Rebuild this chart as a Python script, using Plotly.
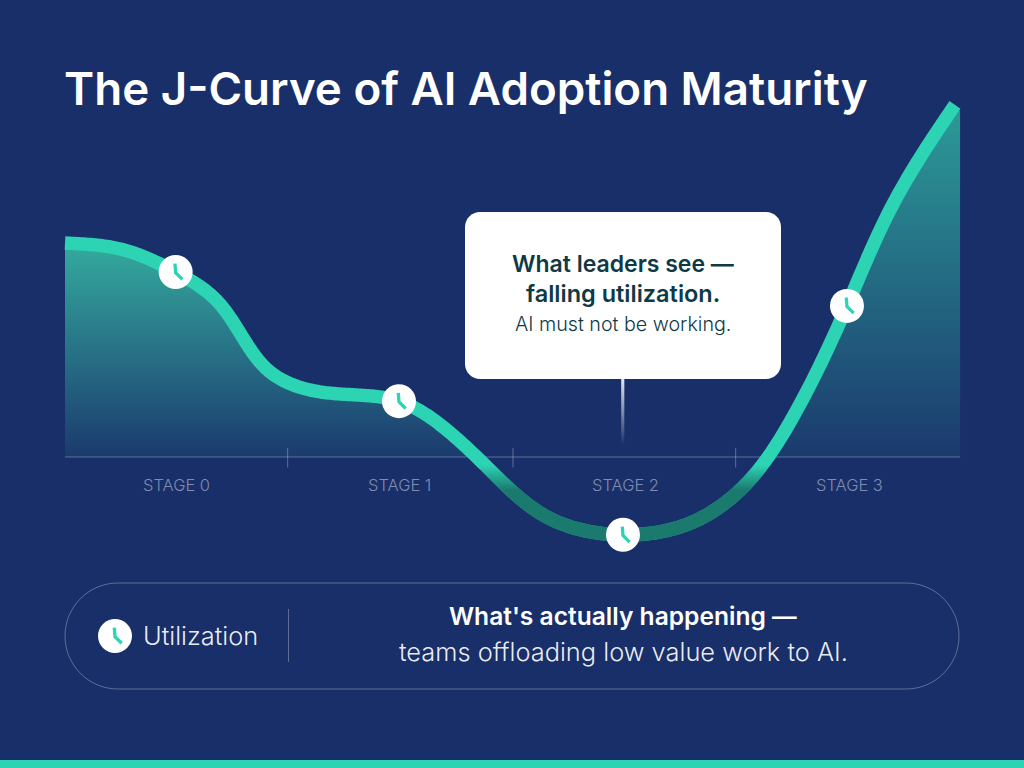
import numpy as np
import plotly.graph_objects as go

# Utilization curve: x in stage units, y in utilization index (0 = axis baseline)
stage_pos = [0.0, 0.246, 0.494, 0.67, 0.795, 0.915, 1.094, 1.295, 1.491, 1.688, 1.911,
             2.143, 2.491, 2.804, 3.013, 3.25, 3.491, 3.683, 3.839, 3.973]
utilization = [61.3, 59.6, 53.0, 45.3, 34.1, 24.4, 19.2, 17.8, 16.0, 8.6, -4.6,
               -16.9, -22.3, -18.6, -9.5, 11.5, 43.3, 70.8, 88.0, 100.9]

# Marked readings, one per stage
marker_pos = [0.494, 1.491, 2.491, 3.491]
marker_util = [53.0, 16.0, -22.3, 43.3]

stage_labels = ["STAGE 0", "STAGE 1", "STAGE 2", "STAGE 3"]
stage_centers = [0.497, 1.495, 2.5, 3.5]
stage_ticks = [0.994, 2.0, 2.994]

NAVY = "#192f69"
TEAL = "#2dd4b4"
DIM_TEAL = "#1b7a6e"
DARK_TEXT = "#0f3a45"
FONT = "Inter"
W, H = 1024, 768
PX_PER_STAGE = 224.0
PX_PER_UNIT = 3.49
X0_PX, Y0_PX = 65.0, 457.0
LINE_PX = 13.4


def smooth(xs, ys, per_span=24):
    """Natural cubic spline through the readings, parametrised by screen distance."""
    p = np.column_stack([np.array(xs) * PX_PER_STAGE, np.array(ys) * PX_PER_UNIT])
    h = np.linalg.norm(np.diff(p, axis=0), axis=1)
    n = len(p)
    a = np.zeros((n, n))
    b = np.zeros((n, 2))
    a[0, 0] = a[-1, -1] = 1
    for i in range(1, n - 1):
        a[i, i - 1] = h[i - 1]
        a[i, i] = 2 * (h[i - 1] + h[i])
        a[i, i + 1] = h[i]
        b[i] = 6 * ((p[i + 1] - p[i]) / h[i] - (p[i] - p[i - 1]) / h[i - 1])
    m = np.linalg.solve(a, b)
    out = []
    for i in range(n - 1):
        for s in np.linspace(0, 1, per_span, endpoint=False):
            r = 1 - s
            out.append(r * p[i] + s * p[i + 1]
                       + ((r**3 - r) * m[i] + (s**3 - s) * m[i + 1]) * h[i] ** 2 / 6)
    out.append(p[-1])
    return np.array(out)


def xp(px):
    return px / W


def yp(py):
    return 1 - py / H


def rounded_rect(x0, y0, x1, y1, r):
    """Path in paper coordinates for a rounded rectangle given in page pixels."""
    k = 0.448 * r
    pts = [
        f"M {xp(x0 + r)} {yp(y0)}", f"L {xp(x1 - r)} {yp(y0)}",
        f"C {xp(x1 - k)} {yp(y0)} {xp(x1)} {yp(y0 + k)} {xp(x1)} {yp(y0 + r)}",
        f"L {xp(x1)} {yp(y1 - r)}",
        f"C {xp(x1)} {yp(y1 - k)} {xp(x1 - k)} {yp(y1)} {xp(x1 - r)} {yp(y1)}",
        f"L {xp(x0 + r)} {yp(y1)}",
        f"C {xp(x0 + k)} {yp(y1)} {xp(x0)} {yp(y1 - k)} {xp(x0)} {yp(y1 - r)}",
        f"L {xp(x0)} {yp(y0 + r)}",
        f"C {xp(x0)} {yp(y0 + k)} {xp(x0 + k)} {yp(y0)} {xp(x0 + r)} {yp(y0)} Z",
    ]
    return " ".join(pts)


def clock_hand(xanchor, yanchor, xref, yref):
    return dict(type="path", layer="above", xref=xref, yref=yref,
                xsizemode="pixel", ysizemode="pixel", xanchor=xanchor, yanchor=yanchor,
                path="M -0.7 8.3 L 0 -0.7 L 6.7 -7.3",
                line=dict(color=TEAL, width=3.3))


curve = smooth(stage_pos, utilization)
curve_x = curve[:, 0] / PX_PER_STAGE
curve_y = curve[:, 1] / PX_PER_UNIT

# Filled lobes: the stretches of the curve above the baseline
left = (curve_y >= 0) & (curve_x < 2)
right = (curve_y >= 0) & (curve_x > 2)
left_x, left_y = curve_x[left], curve_y[left]
right_x = np.append(curve_x[right], 3.996)
right_y = np.append(curve_y[right], 99.0)

# Ribbon around the dipped stretch, used to carry the dimming gradient
tangent = np.gradient(curve, axis=0)
normal = np.column_stack([-tangent[:, 1], tangent[:, 0]])
normal /= np.linalg.norm(normal, axis=1, keepdims=True)
half = (LINE_PX + 0.5) / 2
upper = curve + normal * half
lower = curve - normal * half
dip = curve_y < -0.5
ribbon_x = np.concatenate([upper[dip, 0], lower[dip, 0][::-1]]) / PX_PER_STAGE
ribbon_y = np.concatenate([upper[dip, 1], lower[dip, 1][::-1]]) / PX_PER_UNIT

fig = go.Figure()

# Gradient fills under the curve
fig.add_trace(go.Scatter(
    x=left_x, y=left_y, mode="lines", fill="tozeroy", line=dict(width=0, simplify=False),
    fillgradient=dict(type="vertical", start=0, stop=61.3,
                      colorscale=[[0, "#1b3a6e"], [1, "#34ab9e"]]),
))
fig.add_trace(go.Scatter(
    x=right_x, y=right_y, mode="lines", fill="tozeroy", line=dict(width=0, simplify=False),
    fillgradient=dict(type="vertical", start=0, stop=100,
                      colorscale=[[0, "#1b3a6e"], [1, "#2c9a97"]]),
))

# Baseline
fig.add_trace(go.Scatter(
    x=[0, 3.996], y=[0, 0], mode="lines",
    line=dict(color="rgba(255,255,255,0.3)", width=1),
))

# Utilization curve
fig.add_trace(go.Scatter(
    x=curve_x, y=curve_y, mode="lines", line=dict(color=TEAL, width=LINE_PX, simplify=False),
))

# Dimmed stretch below the baseline
fig.add_trace(go.Scatter(
    x=ribbon_x, y=ribbon_y, mode="lines", fill="toself", line=dict(width=0, simplify=False),
    fillgradient=dict(type="vertical", start=-32, stop=-2.3,
                      colorscale=[[0, DIM_TEAL], [0.758, DIM_TEAL], [1, "rgba(27,122,110,0)"]]),
))

# Stage separators
tick_x, tick_y = [], []
for t in stage_ticks:
    tick_x += [t, t, None]
    tick_y += [2.6, -3.0, None]
fig.add_trace(go.Scatter(
    x=tick_x, y=tick_y, mode="lines",
    line=dict(color="rgba(255,255,255,0.3)", width=1),
))

# Callout stem fading toward the baseline
fig.add_trace(go.Scatter(
    x=[2.483, 2.497, 2.497, 2.483, 2.483], y=[22.6, 22.6, 3.4, 3.4, 22.6],
    mode="lines", fill="toself", line=dict(width=0),
    fillgradient=dict(type="vertical", start=3.4, stop=22.6,
                      colorscale=[[0, "rgba(255,255,255,0)"], [1, "rgba(255,255,255,0.9)"]]),
))

# Clock markers
fig.add_trace(go.Scatter(
    x=marker_pos, y=marker_util, mode="markers",
    marker=dict(size=34, color="white", line=dict(width=0)),
))

fig.update_traces(hoverinfo="skip", showlegend=False)

shapes = [
    dict(type="path", xref="paper", yref="paper", layer="below",
         path=rounded_rect(465, 212, 781, 379, 15), fillcolor="white", line=dict(width=0)),
    dict(type="path", xref="paper", yref="paper", layer="below",
         path=rounded_rect(65, 583, 959, 689, 53), fillcolor="rgba(0,0,0,0)",
         line=dict(color="rgba(255,255,255,0.3)", width=1)),
    dict(type="line", xref="paper", yref="paper", layer="below",
         x0=xp(288.5), x1=xp(288.5), y0=yp(609), y1=yp(662),
         line=dict(color="rgba(255,255,255,0.3)", width=1)),
    dict(type="rect", xref="paper", yref="paper", layer="below",
         x0=0, x1=1, y0=yp(768), y1=yp(760), fillcolor=TEAL, line=dict(width=0)),
    dict(type="circle", xref="paper", yref="paper", layer="above",
         x0=xp(98), x1=xp(132), y0=yp(619), y1=yp(653), fillcolor="white", line=dict(width=0)),
    clock_hand(xp(115), yp(636), "paper", "paper"),
]
for mx, my in zip(marker_pos, marker_util):
    shapes.append(clock_hand(mx, my, "x", "y"))


def text_at(text, px, py, size, color, weight=400, anchor="center"):
    return dict(text=text, x=xp(px), y=yp(py), xref="paper", yref="paper", showarrow=False,
                xanchor=anchor, yanchor="middle",
                font=dict(family=FONT, size=size, color=color, weight=weight))


annotations = [
    text_at("The J-Curve of AI Adoption Maturity", 62, 88, 45.7, "white", 600, "left"),
    text_at("What leaders see —", 623, 264, 23, DARK_TEXT, 600),
    text_at("falling utilization.", 623, 293, 23.5, DARK_TEXT, 600),
    text_at("AI must not be working.", 623, 324, 19.7, DARK_TEXT, 300),
    text_at("Utilization", 141, 635.5, 25.4, "rgba(255,255,255,0.92)", 300, "left"),
    text_at("What's actually happening —", 623, 616, 24.6, "white", 600),
    text_at("teams offloading low value work to AI.", 623, 651.5, 25.4, "rgba(255,255,255,0.92)", 300),
]
for label, cx in zip(stage_labels, stage_centers):
    annotations.append(dict(text=label, x=cx, y=(Y0_PX - 485) / PX_PER_UNIT, xref="x", yref="y",
                            showarrow=False, xanchor="center", yanchor="middle",
                            font=dict(family=FONT, size=16.5, color="#7f8cb0", weight=300)))

fig.update_layout(
    width=W, height=H, autosize=False,
    margin=dict(l=0, r=0, t=0, b=0, pad=0),
    paper_bgcolor=NAVY, plot_bgcolor="rgba(0,0,0,0)",
    showlegend=False,
    xaxis=dict(visible=False, fixedrange=True,
               range=[-X0_PX / PX_PER_STAGE, (W - X0_PX) / PX_PER_STAGE]),
    yaxis=dict(visible=False, fixedrange=True,
               range=[(Y0_PX - H) / PX_PER_UNIT, Y0_PX / PX_PER_UNIT]),
    shapes=shapes,
    annotations=annotations,
)

fig.write_html("out.html", config=dict(displayModeBar=False))
